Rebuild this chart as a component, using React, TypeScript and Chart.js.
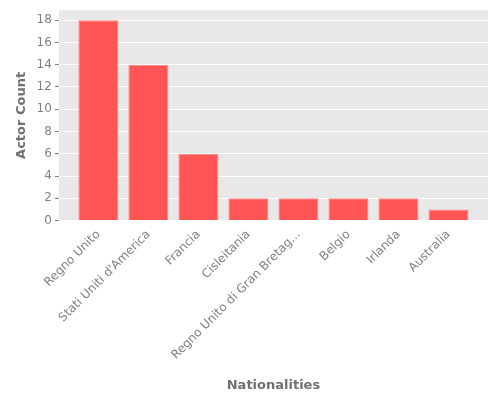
import { useEffect, useRef } from "react"
import { Chart, registerables } from "chart.js"

Chart.register(...registerables)

const nationalities = [
  "Regno Unito",
  "Stati Uniti d'America",
  "Francia",
  "Cisleitania",
  "Regno Unito di Gran Bretag...",
  "Belgio",
  "Irlanda",
  "Australia",
]
const actorCounts = [18, 14, 6, 2, 2, 2, 2, 1]
const yTicks = [0, 2, 4, 6, 8, 10, 12, 14, 16, 18]

const FONT = "'DejaVu Sans', sans-serif"
const TICK_GREY = "#808080"
const TITLE_GREY = "#707070"

const plotBackground = {
  id: "plotBackground",
  beforeDraw(chart: Chart) {
    const { ctx, chartArea } = chart
    ctx.save()
    ctx.fillStyle = "#E8E8E8"
    ctx.fillRect(chartArea.left, chartArea.top, chartArea.right - chartArea.left, chartArea.bottom - chartArea.top)
    ctx.restore()
  },
}

export default function App() {
  const canvasRef = useRef<HTMLCanvasElement>(null)
  const chartRef = useRef<Chart | null>(null)

  useEffect(() => {
    if (!canvasRef.current) return
    if (chartRef.current) chartRef.current.destroy()

    chartRef.current = new Chart(canvasRef.current, {
      type: "bar",
      data: {
        datasets: [
          {
            data: actorCounts.map((v, i) => ({ x: i, y: v })),
            backgroundColor: "#FF5555",
            borderColor: "#FF8585",
            borderWidth: 1,
            barPercentage: 0.8,
            categoryPercentage: 1,
          },
        ],
      },
      options: {
        animation: false,
        responsive: false,
        maintainAspectRatio: false,
        layout: { padding: { top: 10, right: 12, left: 10, bottom: 3 } },
        plugins: { legend: { display: false }, tooltip: { enabled: false } },
        scales: {
          x: {
            type: "linear",
            min: -0.79,
            max: 7.79,
            offset: false,
            grid: { display: false, drawTicks: true, tickLength: 4, tickColor: TICK_GREY },
            border: { display: false },
            afterBuildTicks: (scale) => {
              scale.ticks = nationalities.map((_, i) => ({ value: i }))
            },
            ticks: {
              autoSkip: false,
              maxRotation: 45,
              minRotation: 45,
              color: TICK_GREY,
              font: { family: FONT, size: 12 },
              callback: (value) => nationalities[Number(value)],
            },
            title: {
              display: true,
              text: "Nationalities",
              color: TITLE_GREY,
              font: { family: FONT, size: 13, weight: "bold" },
              padding: { top: 12 },
            },
          },
          y: {
            min: 0,
            max: 18.9,
            afterBuildTicks: (scale) => {
              scale.ticks = yTicks.map((v) => ({ value: v }))
            },
            grid: { color: "#FFFFFF", lineWidth: 1, tickColor: TICK_GREY, tickLength: 4 },
            border: { display: false },
            ticks: {
              color: TICK_GREY,
              font: { family: FONT, size: 12 },
              padding: 3,
            },
            title: {
              display: true,
              text: "Actor Count",
              color: TITLE_GREY,
              font: { family: FONT, size: 13, weight: "bold" },
              padding: { bottom: 4 },
            },
          },
        },
      },
      plugins: [plotBackground],
    })

    return () => {
      if (chartRef.current) {
        chartRef.current.destroy()
        chartRef.current = null
      }
    }
  }, [])

  return (
    <div style={{ position: "fixed", top: 0, left: 0, width: 500, height: 400, background: "#fff" }}>
      <canvas ref={canvasRef} width={500} height={400} style={{ width: 500, height: 400 }} />
    </div>
  )
}
